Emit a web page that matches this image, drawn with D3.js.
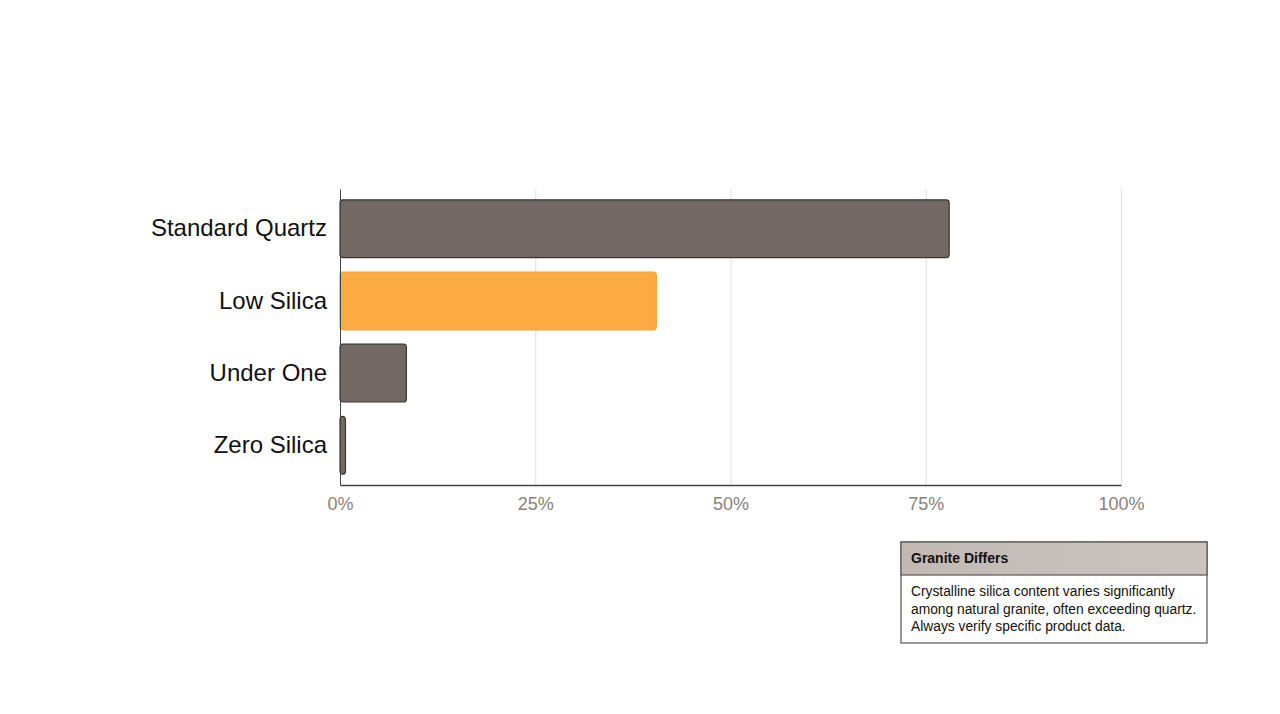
<!DOCTYPE html>
<html>
<head>
<meta charset="utf-8">
<script src="https://cdn.jsdelivr.net/npm/d3@7"></script>
<style>
  body { margin: 0; background: #fff; font-family: "Liberation Sans", Arial, sans-serif; }
  #chart { width: 1280px; height: 714px; }
  .grid line { stroke: #e2e0df; }
  .grid .domain { display: none; }
</style>
</head>
<body>
<div id="chart"></div>
<script>
// data
const categories = ['Standard Quartz', 'Low Silica', 'Under One', 'Zero Silica'];
const silicaPct = [78, 40.5, 8.5, 0.7];
const highlight = ['Low Silica'];
const tickValues = [0, 25, 50, 75, 100];

const noteTitle = 'Granite Differs';
const noteLines = [
    'Crystalline silica content varies significantly',
    'among natural granite, often exceeding quartz.',
    'Always verify specific product data.'
];

const data = categories.map((c, i) => ({ name: c, value: silicaPct[i] }));

const width = 1280, height = 714;
const margin = { t: 189, r: 159, b: 229, l: 340 };
const w = width - margin.l - margin.r;
const h = height - margin.t - margin.b;

const svg = d3.select('#chart')
    .append('svg')
    .attr('width', width)
    .attr('height', height);

const plot = svg.append('g')
    .attr('transform', `translate(${margin.l},${margin.t})`);

// scales
const scaleX = d3.scaleLinear()
    .domain([0, 100])
    .range([0, w]);

const scaleY = d3.scaleBand()
    .domain(categories)
    .range([0, h])
    .paddingInner(0.2)
    .paddingOuter(0.15);

// vertical gridlines
plot.append('g')
    .attr('class', 'grid')
    .attr('transform', `translate(0,${h})`)
    .call(d3.axisBottom(scaleX).tickValues(tickValues).tickSize(-h).tickFormat(''));

// bars
plot.selectAll('.bar')
    .data(data)
    .enter()
    .append('rect')
    .attr('class', 'bar')
    .attr('x', 0)
    .attr('y', d => scaleY(d.name))
    .attr('width', d => scaleX(d.value))
    .attr('height', scaleY.bandwidth())
    .attr('rx', 3)
    .attr('fill', d => highlight.includes(d.name) ? '#fcac43' : '#736964')
    .attr('stroke', d => highlight.includes(d.name) ? '#f2a136' : '#3b3431')
    .attr('stroke-width', 1.2);

// x axis
const axisX = d3.axisBottom(scaleX)
    .tickValues(tickValues)
    .tickSize(0)
    .tickPadding(12)
    .tickFormat(d => d + '%');

const axisXNode = plot.append('g')
    .attr('transform', `translate(0,${h})`)
    .call(axisX);
axisXNode.select('.domain').attr('stroke', '#444').attr('stroke-width', 1.5);
axisXNode.selectAll('text')
    .attr('fill', '#8c817c')
    .style('font-size', '18px')
    .style('font-family', '"Liberation Sans", Arial, sans-serif');

// y axis
const axisY = d3.axisLeft(scaleY)
    .tickSize(0)
    .tickPadding(13);

const axisYNode = plot.append('g').call(axisY);
axisYNode.select('.domain').attr('stroke', '#444').attr('stroke-width', 1);
axisYNode.selectAll('text')
    .attr('fill', '#111')
    .style('font-size', '24px')
    .style('font-family', '"Liberation Sans", Arial, sans-serif');

// annotation box
const note = { x: 901, y: 542, w: 306, h: 101, head: 33 };
const defs = svg.append('defs');
const grad = defs.append('linearGradient')
    .attr('id', 'headGrad')
    .attr('x1', 0).attr('x2', 1).attr('y1', 0).attr('y2', 0);
grad.append('stop').attr('offset', '0%').attr('stop-color', '#c2b9b4');
grad.append('stop').attr('offset', '100%').attr('stop-color', '#cac3bf');

const box = svg.append('g')
    .attr('transform', `translate(${note.x},${note.y})`);
box.append('rect')
    .attr('width', note.w)
    .attr('height', note.h)
    .attr('fill', '#fff')
    .attr('stroke', '#555')
    .attr('stroke-width', 1.2);
box.append('rect')
    .attr('width', note.w)
    .attr('height', note.head)
    .attr('fill', 'url(#headGrad)')
    .attr('stroke', '#555')
    .attr('stroke-width', 1.2);
box.append('text')
    .attr('x', 10)
    .attr('y', 21)
    .attr('font-size', 14)
    .attr('font-weight', 'bold')
    .attr('fill', '#111')
    .text(noteTitle);
box.selectAll('.note-line')
    .data(noteLines)
    .enter()
    .append('text')
    .attr('class', 'note-line')
    .attr('x', 10)
    .attr('y', (d, i) => 54 + i * 17.5)
    .attr('font-size', 13.8)
    .attr('fill', '#111')
    .text(d => d);
</script>
</body>
</html>
